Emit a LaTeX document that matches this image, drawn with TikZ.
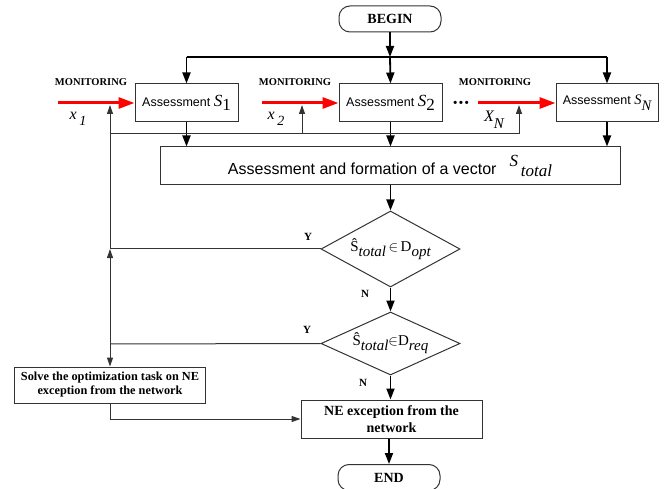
\documentclass[tikz,border=0pt]{standalone}
\usepackage{fontspec}
\setmainfont{Liberation Serif}
\newfontfamily\arial{Liberation Sans}
\usetikzlibrary{shapes.geometric,arrows.meta}
\definecolor{boxgray}{gray}{0.2}
\tikzset{
  box/.style={draw=boxgray,line width=1pt,inner sep=0pt,align=center},
  term/.style={box,rounded corners=11pt,minimum width=102pt,minimum height=26pt,font=\fontsize{14}{16}\selectfont\bfseries},
  assbox/.style={box,minimum width=103pt,minimum height=38pt,font=\arial\fontsize{12.5}{14}\selectfont},
  dec/.style={draw=boxgray,line width=1pt,shape=diamond,aspect=1.83,inner sep=0pt,minimum width=139pt,font=\fontsize{15}{16}\selectfont},
  mainarr/.style={line width=1.8pt,-{Triangle[length=11pt,width=8pt]}},
  mainline/.style={line width=1.8pt},
  thinarr/.style={line width=1pt,draw=boxgray,-{Triangle[length=9pt,width=6pt]}},
  thinline/.style={line width=1pt,draw=boxgray},
  redarr/.style={line width=3pt,red,-{Triangle[length=16pt,width=11pt]}},
  moni/.style={font=\fontsize{10.5}{12}\selectfont\bfseries,inner sep=0pt},
  yn/.style={font=\fontsize{11}{12}\selectfont\bfseries,inner sep=0pt},
  xlab/.style={font=\fontsize{16}{17}\selectfont\itshape,inner sep=0pt}
}
\begin{document}
\begin{tikzpicture}[x=1pt,y=-1pt]
\useasboundingbox (0,0) rectangle (664,489);
% terminals
\node[term] (begin) at (390,19) {BEGIN};
\node[term] (end) at (389,477.5) {END};
% assessment boxes
\node[assbox] (ass1) at (186.5,103) {Assessment \fontsize{17}{18}\selectfont\rmfamily\itshape S\upshape\raisebox{-4pt}{1}};
\node[assbox] (ass2) at (390.5,103) {Assessment \fontsize{17}{18}\selectfont\rmfamily\itshape S\upshape\raisebox{-4pt}{2}};
\node[assbox,minimum width=102pt] (assN) at (607,103) {Assessment \fontsize{14.5}{15}\selectfont\rmfamily\itshape S\raisebox{-6pt}{N}};
\node[box,minimum width=460pt,minimum height=38pt,font=\arial\fontsize{16}{18}\selectfont] (total) at (390,166)
  {Assessment and formation of a vector\hspace{13pt}{\fontsize{17}{18}\selectfont\rmfamily\itshape\raisebox{8pt}{S}\raisebox{-2pt}{\,total}}};
% decisions
\node[dec,minimum height=76pt] (d1) at (390.5,249)
  {Ŝ\raisebox{-5pt}{\itshape total}\,$\in$\,D\raisebox{-5pt}{\itshape opt}};
\node[dec,minimum height=63pt] (d2) at (390.5,343.5)
  {Ŝ\raisebox{-5pt}{\itshape total}$\in$D\raisebox{-5pt}{\itshape req}};
% action boxes
\node[box,minimum width=191pt,minimum height=36pt,font=\fontsize{12.3}{14}\selectfont\bfseries] (solve) at (110,385)
  {Solve the optimization task on NE\\exception from the network};
\node[box,minimum width=181pt,minimum height=38pt,font=\fontsize{14}{16.5}\selectfont\bfseries] (ne) at (391.5,419)
  {NE exception from the\\network};
% coordinates
\coordinate (tl1) at (186.5,57);
\coordinate (tlN) at (607,57);
\coordinate (tl2) at (390,57);
\coordinate (m1) at (58,103);
\coordinate (m2) at (262,103);
\coordinate (mN) at (478,103);
\coordinate (r1) at (110,105);
\coordinate (r2) at (302,105);
\coordinate (rN) at (519,105);
\coordinate (fbL) at (110,134);
\coordinate (fb2) at (302,134);
\coordinate (fbR) at (519,134);
\coordinate (y1) at (110,249);
\coordinate (y2) at (110,344);
% top distribution
\draw[mainarr] (begin.south) -- (tl2);
\draw[mainline] (tl1) -- (tlN);
\draw[mainarr] (tl1) -- (ass1.north);
\draw[mainarr] (tl2) -- (ass2.north);
\draw[mainarr] (tlN) -- (assN.north);
% into total
\draw[mainarr] (ass1.south) -- (ass1.south |- total.north);
\draw[mainarr] (ass2.south) -- (ass2.south |- total.north);
\draw[mainarr] (assN.south) -- (assN.south |- total.north);
% main flow
\draw[mainarr] (total.south -| d1.north) -- (d1.north);
\draw[mainarr] (d1.south) -- (d2.north);
\draw[mainarr] (d2.south) -- (d2.south |- ne.north);
\draw[mainarr] (ne.south -| end.north) -- (end.north);
% monitoring inputs
\draw[redarr] (m1) -- (ass1.west);
\draw[redarr] (m2) -- (ass2.west);
\draw[redarr] (mN) -- (assN.west);
% feedback
\draw[thinline] (fbL) -- (fbR);
\draw[thinarr] (fb2) -- (r2);
\draw[thinarr] (fbR) -- (rN);
\draw[thinline] (d1.west) -- (y1);
\draw[thinline] (d2.west) -- (y2);
\draw[thinarr] (y2) -- (y1);
\draw[thinarr] (y1) -- (r1);
\draw[thinarr] (y2) -- (solve.north);
\draw[thinarr] (solve.south) |- (ne.west);
% labels
\node[moni] (mon1) at (91,82) {MONITORING};
\node[moni] (mon2) at (295,82) {MONITORING};
\node[moni] (monN) at (495,82) {MONITORING};
\node[xlab] (x1) at (78,119) {x\raisebox{-6pt}{\,\fontsize{14}{15}\selectfont 1}};
\node[xlab] (x2) at (276,119) {x\raisebox{-6pt}{\,\fontsize{14}{15}\selectfont 2}};
\node[xlab] (xN) at (494,120) {X\raisebox{-7pt}{\fontsize{15}{16}\selectfont N}};
\node[font=\arial\bfseries\fontsize{11}{12}\selectfont,inner sep=0pt] (dots) at (461,104) {•\,•\,•};
\node[yn] (ya) at (308,237) {Y};
\node[yn] (yb) at (307,330) {Y};
\node[yn] (na) at (365,294) {N};
\node[yn] (nb) at (363,383) {N};
\end{tikzpicture}
\end{document}
